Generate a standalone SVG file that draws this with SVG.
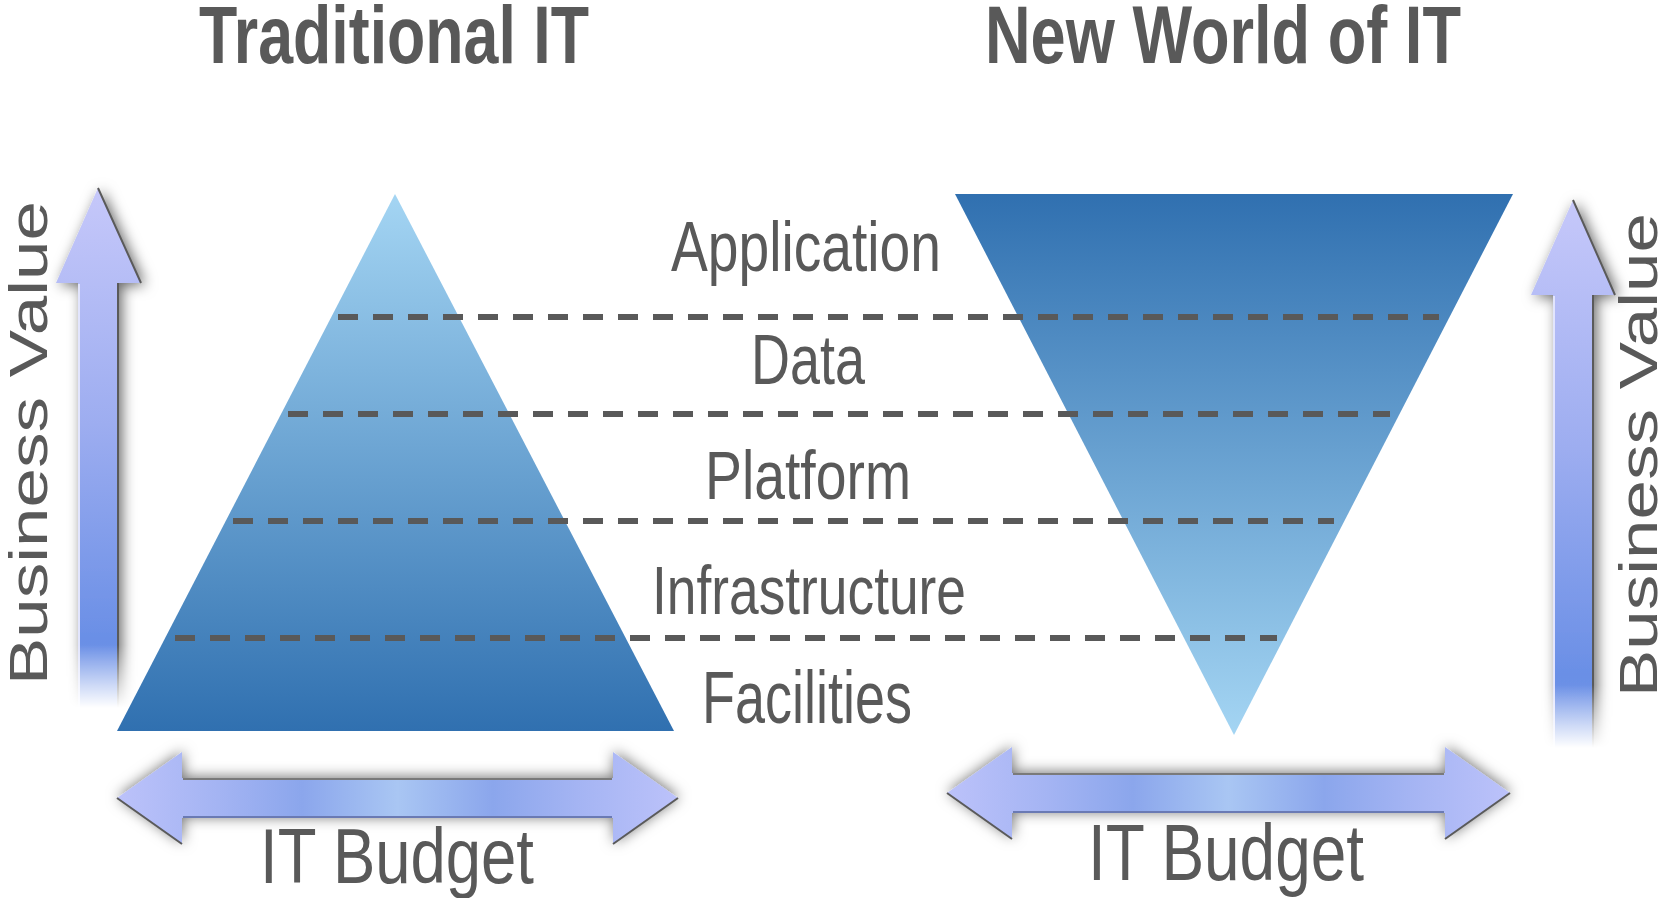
<svg xmlns="http://www.w3.org/2000/svg" width="1661" height="898" viewBox="0 0 1661 898">
<defs>
<style>
.t{font-family:"Liberation Sans",Arial,sans-serif;fill:#595959}
.title{font-weight:bold;font-size:81px}
.layer{font-size:71px;text-anchor:middle}
.axis{font-size:78px;text-anchor:middle}
.bv{font-size:54px;text-anchor:middle}
.dash{stroke:#595959;stroke-width:6;stroke-dasharray:20 15;fill:none}
.edgeD{stroke:#5a5a5a;stroke-width:2;fill:none}
.edgeL{stroke:#e2e5fd;stroke-width:2;fill:none}
.edgeB{stroke:#6a7ab4;stroke-width:2;fill:none}
</style>
<linearGradient id="gUp" x1="0" y1="0" x2="0" y2="1">
<stop offset="0" stop-color="#a4d5f3"/>
<stop offset="1" stop-color="#3070b0"/>
</linearGradient>
<linearGradient id="gDown" x1="0" y1="0" x2="0" y2="1">
<stop offset="0" stop-color="#3070b0"/>
<stop offset="1" stop-color="#a4d5f3"/>
</linearGradient>
<linearGradient id="gV" x1="0" y1="0" x2="0" y2="1">
<stop offset="0" stop-color="#c6c8fa"/>
<stop offset="0.45" stop-color="#9dadf0"/>
<stop offset="0.86" stop-color="#6a8fe6"/>
<stop offset="1" stop-color="#7a9ae8"/>
</linearGradient>
<linearGradient id="gH" x1="0" y1="0" x2="1" y2="0">
<stop offset="0" stop-color="#bcc2fa"/>
<stop offset="0.18" stop-color="#a4b4f3"/>
<stop offset="0.33" stop-color="#8ba6ec"/>
<stop offset="0.5" stop-color="#a9c6f3"/>
<stop offset="0.67" stop-color="#8ba6ec"/>
<stop offset="0.82" stop-color="#a4b4f3"/>
<stop offset="1" stop-color="#bcc2fa"/>
</linearGradient>
<filter id="shV" x="-70%" y="-10%" width="240%" height="120%">
<feGaussianBlur in="SourceAlpha" stdDeviation="7"/>
<feOffset dx="4" dy="2" result="b"/>
<feFlood flood-color="#000" flood-opacity="0.6"/>
<feComposite in2="b" operator="in"/>
<feMerge><feMergeNode/><feMergeNode in="SourceGraphic"/></feMerge>
</filter>
<filter id="shH" x="-10%" y="-70%" width="120%" height="240%">
<feGaussianBlur in="SourceAlpha" stdDeviation="7"/>
<feOffset dx="1" dy="-1" result="b"/>
<feFlood flood-color="#000" flood-opacity="0.55"/>
<feComposite in2="b" operator="in"/>
<feMerge><feMergeNode/><feMergeNode in="SourceGraphic"/></feMerge>
</filter>
<linearGradient id="fadeL" gradientUnits="userSpaceOnUse" x1="0" y1="645" x2="0" y2="708">
<stop offset="0" stop-color="#fff"/>
<stop offset="1" stop-color="#000"/>
</linearGradient>
<linearGradient id="fadeR" gradientUnits="userSpaceOnUse" x1="0" y1="685" x2="0" y2="748">
<stop offset="0" stop-color="#fff"/>
<stop offset="1" stop-color="#000"/>
</linearGradient>
<mask id="mL" maskUnits="userSpaceOnUse" x="0" y="150" width="220" height="620">
<rect x="0" y="150" width="220" height="620" fill="url(#fadeL)"/>
</mask>
<mask id="mR" maskUnits="userSpaceOnUse" x="1450" y="160" width="211" height="620">
<rect x="1450" y="160" width="211" height="620" fill="url(#fadeR)"/>
</mask>
</defs>
<rect width="1661" height="898" fill="#ffffff"/>

<g id="title-traditional"><text class="t title" x="199" y="63" textLength="390" lengthAdjust="spacingAndGlyphs">Traditional IT</text></g>
<g id="title-new"><text class="t title" x="985" y="63" textLength="476" lengthAdjust="spacingAndGlyphs">New World of IT</text></g>

<g id="pyramid-traditional"><polygon points="395,194 674,731 117,731" fill="url(#gUp)"/></g>
<g id="pyramid-new"><polygon points="955,194 1513,194 1234,735" fill="url(#gDown)"/></g>

<g id="connectors">
<line class="dash" x1="338" y1="317" x2="1439" y2="317"/>
<line class="dash" x1="288" y1="414" x2="1390" y2="414"/>
<line class="dash" x1="233" y1="521" x2="1334" y2="521"/>
<line class="dash" x1="175" y1="638" x2="1277" y2="638"/>
</g>

<g id="layer-application"><text class="t layer" x="806" y="271" textLength="270" lengthAdjust="spacingAndGlyphs">Application</text></g>
<g id="layer-data"><text class="t layer" x="808" y="384" textLength="114" lengthAdjust="spacingAndGlyphs">Data</text></g>
<g id="layer-platform"><text class="t layer" x="808" y="499" style="font-size:69px" textLength="206" lengthAdjust="spacingAndGlyphs">Platform</text></g>
<g id="layer-infrastructure"><text class="t layer" x="809" y="614" style="font-size:69px" textLength="314" lengthAdjust="spacingAndGlyphs">Infrastructure</text></g>
<g id="layer-facilities"><text class="t layer" x="807" y="723" style="font-size:74px" textLength="210" lengthAdjust="spacingAndGlyphs">Facilities</text></g>

<g id="axis-value-left">
<g mask="url(#mL)">
<path d="M98,188 L141,283 L118,283 L118,712 L78,712 L78,283 L56,283 Z" fill="url(#gV)" filter="url(#shV)"/>
<path class="edgeD" d="M98,188 L141,283 M118,283 L118,712"/>
<path class="edgeL" d="M79,284 L79,712"/>
</g>
<text class="t bv" transform="translate(47,443) rotate(-90)" textLength="484" lengthAdjust="spacingAndGlyphs">Business Value</text>
</g>

<g id="axis-value-right">
<g mask="url(#mR)">
<path d="M1573,200 L1615,295 L1593,295 L1593,752 L1553,752 L1553,295 L1531,295 Z" fill="url(#gV)" filter="url(#shV)"/>
<path class="edgeD" d="M1573,200 L1615,295 M1593,295 L1593,752"/>
<path class="edgeL" d="M1554,296 L1554,752"/>
</g>
<text class="t bv" transform="translate(1657,455) rotate(-90)" textLength="484" lengthAdjust="spacingAndGlyphs">Business Value</text>
</g>

<g id="axis-budget-left">
<path d="M117,798 L182,752 L182,778 L613,778 L613,752 L678,798 L613,844 L613,818 L182,818 L182,844 Z" fill="url(#gH)" filter="url(#shH)"/>
<path class="edgeD" d="M183,779 L612,779" style="stroke:#7a7a7a"/>
<path class="edgeB" d="M183,817 L612,817"/>
<path class="edgeD" d="M117,798 L182,844 M678,798 L613,844"/>
<text class="t axis" x="397" y="883" textLength="274" lengthAdjust="spacingAndGlyphs">IT Budget</text>
</g>

<g id="axis-budget-right">
<path d="M947,793 L1012,747 L1012,773 L1445,773 L1445,747 L1510,793 L1445,839 L1445,813 L1012,813 L1012,839 Z" fill="url(#gH)" filter="url(#shH)"/>
<path class="edgeD" d="M1013,774 L1444,774" style="stroke:#7a7a7a"/>
<path class="edgeB" d="M1013,812 L1444,812"/>
<path class="edgeD" d="M947,793 L1012,839 M1510,793 L1445,839"/>
<text class="t axis" x="1226" y="880" style="font-size:79px" textLength="276" lengthAdjust="spacingAndGlyphs">IT Budget</text>
</g>
</svg>
